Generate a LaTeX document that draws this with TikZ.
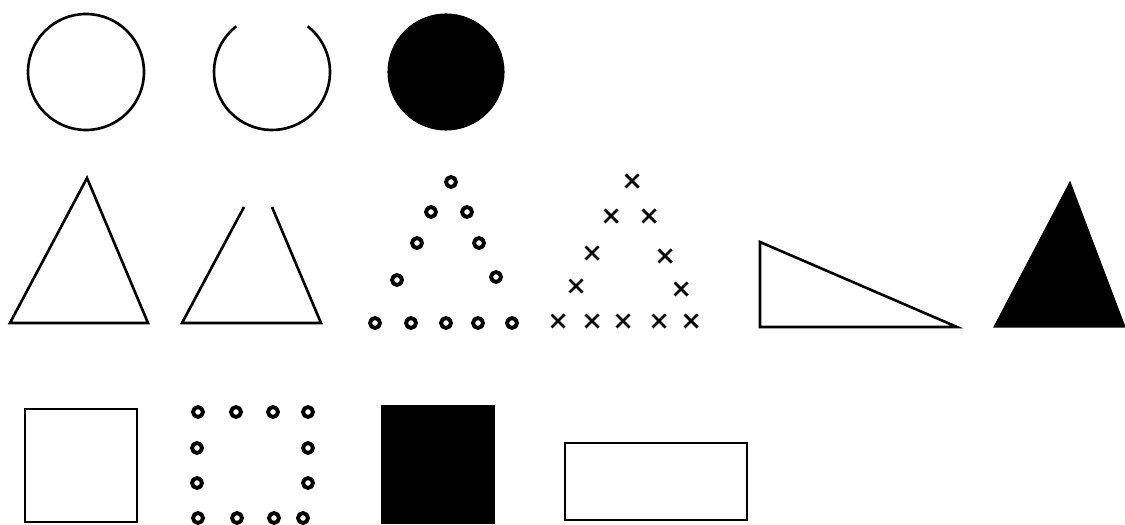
\documentclass[tikz,border=0pt]{standalone}
\usetikzlibrary{calc}

\begin{document}
\begin{tikzpicture}[x=0.02cm, y=0.02cm,
      outline/.style={draw, line width=1.5pt, line join=miter},
      solid fill/.style={fill=black, draw=black, line width=0.6pt},
      ring/.style={draw, line width=2.2pt},
      cross/.style={draw, line width=1.6pt}]
    \useasboundingbox (0,0) rectangle (1125,524);
    \clip (0,0) rectangle (1125,524);

    % top row: circles
    \draw[outline] (86,452) circle[radius=58];
    \draw[outline] ([shift={(128:58)}]272,452) arc[start angle=128, end angle=412, radius=58];
    \filldraw[solid fill] (446,452) circle[radius=58];

    % middle row: triangles
    \draw[outline] (87,346) -- (10,201) -- (148,201) -- cycle;
    \draw[outline] (244,317) -- (182,201) -- (321,201) -- (272,317);
    \foreach \px/\py in {451/342, 431/312, 467/312, 417/281, 479/281, 397/244, 496/247,
        375/201, 411/201, 446/201, 478/201, 512/201}
      \draw[ring] (\px,\py) circle[radius=5];
    \foreach \px/\py in {632/343, 611/308, 649/308, 592/271, 665/268, 576/238, 681/235,
        558/203, 592/203, 623/203, 659/203, 691/203}
      \draw[cross] (\px-6.5,\py-6.5) -- (\px+6.5,\py+6.5) (\px-6.5,\py+6.5) -- (\px+6.5,\py-6.5);
    \draw[outline] (760,282) -- (760,197) -- (957,197) -- cycle;
    \filldraw[solid fill] (1070,342) -- (994,197) -- (1125,197) -- cycle;

    % bottom row: squares
    \draw[outline] (25,2) rectangle (137,115);
    \foreach \px/\py in {198/112, 236/112, 273/112, 308/112, 197/76, 308/76, 197/41, 308/41,
        198/6, 237/6, 274/6, 303/6}
      \draw[ring] (\px,\py) circle[radius=5];
    \filldraw[solid fill] (382,1) rectangle (494,118);
    \draw[outline] (565,4) rectangle (747,81);
  \end{tikzpicture}
\end{document}
